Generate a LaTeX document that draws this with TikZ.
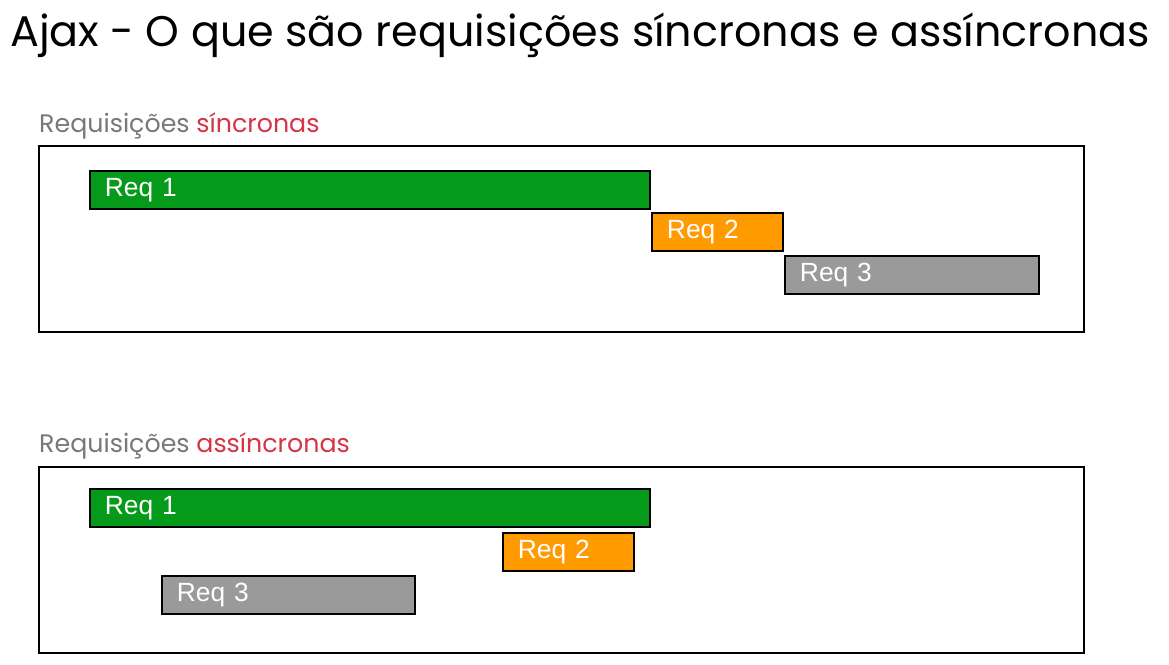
\documentclass[tikz,border=0pt]{standalone}
\usepackage{fontspec}
\setmainfont{Poppins}
\newfontfamily\barfont{Liberation Sans}
\usepackage{xcolor}
\usetikzlibrary{positioning}
\definecolor{reqgreen}{RGB}{6,154,26}
\definecolor{reqorange}{RGB}{255,154,0}
\definecolor{reqgray}{RGB}{154,154,154}
\definecolor{labelgray}{RGB}{120,120,120}
\definecolor{labelred}{RGB}{214,52,70}

\begin{document}
\begin{tikzpicture}[x=0.02cm,y=-0.02cm,
  panel/.style={draw,line width=1.2pt,anchor=north west,minimum height=3.72cm,
    minimum width=20.9cm,inner sep=0pt},
  reqbar/.style={draw,line width=1.1pt,anchor=north west,minimum height=0.77cm,
    inner xsep=0.3cm,inner ysep=0pt,text width=#1,align=left,
    font=\barfont\fontsize{15}{15}\selectfont,text=white},
  heading/.style={anchor=base west,font=\fontsize{14.4}{15}\selectfont,text=labelgray}
  ]
\useasboundingbox[fill=white] (0,0) rectangle (1169,665);

% Title
\node[anchor=base west,inner sep=0pt,font=\fontsize{24.4}{26}\selectfont] (title) at (10,47)
  {Ajax - O que são requisições síncronas e assíncronas};

% Synchronous requests
\node[heading] (synclabel) at (33,133)
  {Requisições \textcolor{labelred}{síncronas}};
\node[panel] (syncbox) at (38,145) {};
\node[reqbar=10.6cm,fill=reqgreen]  (s1) at (89,170)  {Req 1};
\node[reqbar=2.02cm,fill=reqorange] (s2) at (651,212) {Req 2};
\node[reqbar=4.48cm,fill=reqgray]   (s3) at (784,255) {Req 3};

% Asynchronous requests
\node[heading] (asynclabel) at (33,452)
  {Requisições \textcolor{labelred}{assíncronas}};
\node[panel] (asyncbox) at (38,466) {};
\node[reqbar=10.6cm,fill=reqgreen]  (a1) at (89,488)  {Req 1};
\node[reqbar=2.02cm,fill=reqorange] (a2) at (502,532) {Req 2};
\node[reqbar=4.46cm,fill=reqgray]   (a3) at (161,575) {Req 3};

\end{tikzpicture}
\end{document}
